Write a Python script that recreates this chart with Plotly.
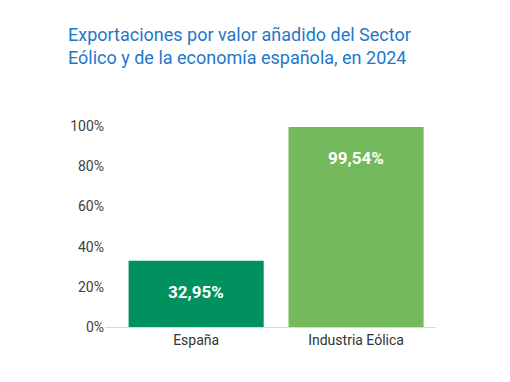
import plotly.graph_objects as go

categories = ["España", "Industria Eólica"]
values = [32.95, 99.54]
labels = ["32,95%", "99,54%"]
colors = ["#00915F", "#74B95B"]
y_ticks = [0, 20, 40, 60, 80, 100]
y_ticklabels = ["0%", "20%", "40%", "60%", "80%", "100%"]

fig = go.Figure()
fig.add_trace(go.Bar(
    x=categories, y=values, marker=dict(color=colors, line=dict(width=0)),
    width=0.845, hoverinfo="skip", showlegend=False,
))
for c, v, t in zip(categories, values, labels):
    fig.add_annotation(x=c, y=v, text=t, showarrow=False, yshift=-31,
                       font=dict(family="Roboto", size=17, color="white", weight="bold"))

fig.update_layout(
    width=510, height=382,
    margin=dict(l=97, r=82, t=118, b=63),
    paper_bgcolor="white", plot_bgcolor="white",
    title=dict(text="Exportaciones por valor añadido del Sector<br>Eólico y de la economía española, en 2024",
               x=60/510, xanchor="left", xref="container",
               y=1-33/382, yanchor="top", yref="container",
               font=dict(family="Roboto", size=18, color="#1F77C9")),
    xaxis=dict(range=[-0.57, 1.5], showline=True, linecolor="#D9D9D9", linewidth=1,
               ticks="", showgrid=False, tickfont=dict(family="Roboto", size=14, color="#333333")),
    yaxis=dict(range=[0, 100], tickvals=y_ticks, ticktext=y_ticklabels, showgrid=False,
               zeroline=False, showline=False, ticks="",
               tickfont=dict(family="Roboto", size=14, color="#404040")),
)
fig.write_html("out.html")
